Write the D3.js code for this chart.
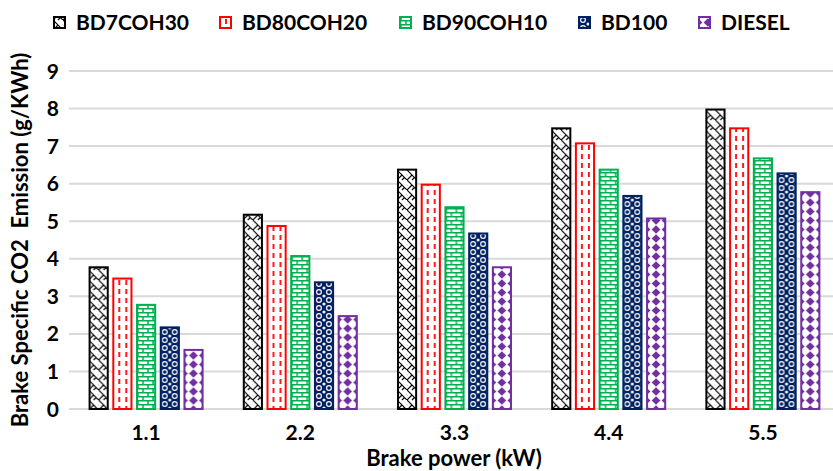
<!DOCTYPE html>
<html>
<head>
<meta charset="utf-8">
<script src="https://cdn.jsdelivr.net/npm/d3@7"></script>
<style>
  body { margin: 0; background: #fff; }
  svg { display: block; font-family: Lato, 'Open Sans', sans-serif; font-weight: bold; }
</style>
</head>
<body>
<svg id="chart" width="833" height="471"></svg>
<script>
var categories = ['1.1', '2.2', '3.3', '4.4', '5.5']
var seriesNames = ['BD7COH30', 'BD80COH20', 'BD90COH10', 'BD100', 'DIESEL']
var bd7coh30 = [3.8, 5.2, 6.4, 7.5, 8.0]
var bd80coh20 = [3.5, 4.9, 6.0, 7.1, 7.5]
var bd90coh10 = [2.8, 4.1, 5.4, 6.4, 6.7]
var bd100 = [2.2, 3.4, 4.7, 5.7, 6.3]
var diesel = [1.6, 2.5, 3.8, 5.1, 5.8]
var yTicks = [0, 1, 2, 3, 4, 5, 6, 7, 8, 9]

var seriesValues = [bd7coh30, bd80coh20, bd90coh10, bd100, diesel]
var colors = ['#000000', '#ff0000', '#00b050', '#002060', '#7030a0']

var svg = d3.select('svg')
var defs = svg.append('defs')

// hatch patterns, one per series (bars are drawn in their own local space
// so every pattern starts at the bar's left edge)
function pattern (id, w, h, bg) {
  var p = defs.append('pattern')
    .attr('id', id)
    .attr('patternUnits', 'userSpaceOnUse')
    .attr('width', w)
    .attr('height', h)
  p.append('rect').attr('width', w).attr('height', h).attr('fill', bg)
  return p
}

// herringbone weave
var p0 = pattern('p0', 10, 10, '#fff')
p0.append('path')
  .attr('d', 'M0,0 L10,10 M0,10 L5,5 M5,0 L7.5,-2.5 M10,5 L12.5,2.5 M-2.5,7.5 L0,5 M5,10 L7.5,7.5')
  .attr('stroke', colors[0]).attr('stroke-width', 1.2).attr('fill', 'none')

// dashed vertical
var p1 = pattern('p1', 7, 9, '#fff')
p1.append('path')
  .attr('d', 'M0,1 L0,6 M7,1 L7,6')
  .attr('stroke', colors[1]).attr('stroke-width', 1.8)

// bricks
var p2 = pattern('p2', 10, 8, '#fff')
p2.append('path')
  .attr('d', 'M0,0.75 L10,0.75 M0,4.75 L10,4.75 M2,0 L2,4 M7,4 L7,8')
  .attr('stroke', colors[2]).attr('stroke-width', 1.5)

// spheres on dark ground
var p3 = pattern('p3', 10, 8, colors[3])
p3.append('circle').attr('cx', 5).attr('cy', 4).attr('r', 2.4)
  .attr('fill', 'none').attr('stroke', '#fff').attr('stroke-width', 1.2)
;[[0, 0], [10, 0], [0, 8], [10, 8]].forEach(function (c) {
  p3.append('circle').attr('cx', c[0]).attr('cy', c[1]).attr('r', 1.5).attr('fill', '#fff')
})

// solid diamonds
var p4 = pattern('p4', 10, 9, '#fff')
p4.append('path')
  .attr('d', 'M0,0.3 L4.4,4.5 L0,8.7 Z M10,0.3 L5.6,4.5 L10,8.7 Z')
  .attr('fill', colors[4])

var x0 = d3.scaleBand().domain(categories).range([69, 840])
  .paddingInner(0.254).paddingOuter(0.127)
var x1 = d3.scaleBand().domain(seriesNames).range([0, x0.bandwidth()])
  .paddingInner(0.15)
var y = d3.scaleLinear().domain([0, 9]).range([409, 71])

// gridlines
svg.append('g')
  .selectAll('line')
  .data(yTicks)
  .enter()
  .append('line')
  .attr('x1', 69).attr('x2', 840)
  .attr('y1', (d) => y(d)).attr('y2', (d) => y(d))
  .attr('stroke', '#d9d9d9').attr('stroke-width', 2)

// y tick labels
svg.append('g')
  .selectAll('text')
  .data(yTicks)
  .enter()
  .append('text')
  .attr('x', 59)
  .attr('y', (d) => y(d))
  .attr('dy', '0.36em')
  .attr('text-anchor', 'end')
  .attr('font-size', 21)
  .text((d) => d)

// bars
var groups = svg.append('g')
  .selectAll('g')
  .data(categories)
  .enter()
  .append('g')
  .attr('transform', (d) => 'translate(' + x0(d) + ',0)')

groups.selectAll('g')
  .data((c, i) => seriesNames.map((s, k) => ({ s: s, k: k, v: seriesValues[k][i] })))
  .enter()
  .append('g')
  .attr('transform', (d) => 'translate(' + x1(d.s) + ',0)')
  .append('rect')
  .attr('x', 1)
  .attr('y', (d) => y(d.v) + 1)
  .attr('width', x1.bandwidth() - 2)
  .attr('height', (d) => y(0) - y(d.v) - 1)
  .attr('fill', (d) => 'url(#p' + d.k + ')')
  .attr('stroke', (d) => colors[d.k])
  .attr('stroke-width', 2)

// x tick labels
svg.append('g')
  .selectAll('text')
  .data(categories)
  .enter()
  .append('text')
  .attr('x', (d) => x0(d) + x0.bandwidth() / 2)
  .attr('y', 440)
  .attr('text-anchor', 'middle')
  .attr('font-size', 21)
  .text((d) => d)

// axis titles
svg.append('text')
  .attr('x', 454)
  .attr('y', 466)
  .attr('text-anchor', 'middle')
  .attr('font-size', 22)
  .text('Brake power (kW)')

svg.append('text')
  .attr('transform', 'translate(28,240) rotate(-90)')
  .attr('text-anchor', 'middle')
  .attr('font-size', 22)
  .style('white-space', 'pre')
  .text('Brake Specific CO2  Emission (g/KWh)')

// legend
var legendX = [53, 219, 399, 578, 698]
var legend = svg.append('g')
  .selectAll('g')
  .data(seriesNames)
  .enter()
  .append('g')
  .attr('transform', (d, i) => 'translate(' + legendX[i] + ',0)')

legend.append('rect')
  .attr('x', 1).attr('y', 17)
  .attr('width', 11).attr('height', 11)
  .attr('fill', (d, i) => 'url(#p' + i + ')')
  .attr('stroke', (d, i) => colors[i])
  .attr('stroke-width', 2)

legend.append('text')
  .attr('x', 23)
  .attr('y', 30)
  .attr('font-size', 21)
  .text((d) => d)
</script>
</body>
</html>
